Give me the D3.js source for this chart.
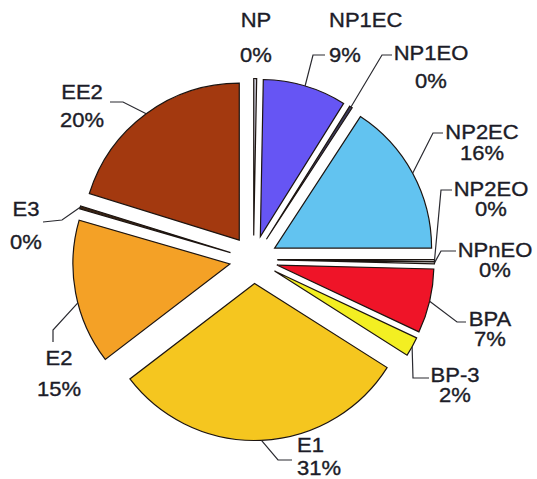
<!DOCTYPE html>
<html>
<head>
<meta charset="utf-8">
<script src="https://cdn.jsdelivr.net/npm/d3@7"></script>
<style>
  html, body { margin: 0; padding: 0; background: #fff; }
  svg { display: block; }
  .lbl { font-family: "Liberation Sans", Arial, sans-serif; font-size: 20px; fill: #1c1c28;
         stroke: #1c1c28; stroke-width: 0.35px; }
</style>
</head>
<body>
<div id="chart"></div>
<script>
// slice names and their shares (percent), clockwise from 12 o'clock
const names = ["NP", "NP1EC", "NP1EO", "NP2EC", "NP2EO", "NPnEO", "BPA", "BP-3", "E1", "E2", "E3", "EE2"];
const shares = [0.3, 8.6, 0.3, 15.8, 0.2, 0.2, 6.6, 2.0, 30.6, 14.9, 0.3, 20.2];

// fill colours, same order as names
const palette = ["#c9c9d6", "#6655f4", "#3a3a5c", "#62c3f0", "#f4f4f4", "#f4f4f4",
                 "#ef1428", "#f3ef22", "#f5c61f", "#f4a126", "#3b2412", "#a3390f"];

const W = 537, H = 479;
const cx = 253.5, cy = 259.5;   // pie centre
const R = 157;                   // radius
const explode = 24;              // distance every slice is pulled out
const fontSize = 20, stretch = 1.1;

// where each label sits, and the elbow of its leader line
// (line1 centre y, line2 centre y; leader goes arc -> elbow -> end)
const labelLayout = {
  "NP":    { x: 256, y1: 20,  y2: 55,  anchor: "middle" },
  "NP1EC": { x: 329, y1: 20,  y2: 55,  anchor: "start", elbow: [313, 55], end: [325, 55] },
  "NP1EO": { x: 431, y1: 53,  y2: 81,  anchor: "middle", elbow: [382, 55], end: [392, 55] },
  "NP2EC": { x: 482, y1: 132, y2: 153, anchor: "middle", elbow: [433, 133], end: [443, 133] },
  "NP2EO": { x: 491, y1: 189, y2: 209, anchor: "middle", elbow: [441, 190], end: [452, 190] },
  "NPnEO": { x: 495, y1: 250, y2: 270, anchor: "middle", elbow: [441, 251], end: [456, 251] },
  "BPA":   { x: 490, y1: 319, y2: 339, anchor: "middle", elbow: [457, 322], end: [466, 322] },
  "BP-3":  { x: 455, y1: 375, y2: 395, anchor: "middle", elbow: [413, 378], end: [429, 378] },
  "E1":    { x: 297, y1: 445, y2: 468, anchor: "start", elbow: [278, 460], end: [292, 460] },
  "E2":    { x: 59,  y1: 358, y2: 389, anchor: "middle", elbow: [53, 330], end: [53, 342], at: 0.43 },
  "E3":    { x: 26,  y1: 209, y2: 242, anchor: "middle", elbow: [62, 220], end: [43, 222] },
  "EE2":   { x: 82,  y1: 92,  y2: 120, anchor: "middle", elbow: [123, 102], end: [110, 102] }
};

const svg = d3.select("#chart")
  .append("svg")
    .attr("width", W)
    .attr("height", H);

const data = names.map((n, i) => ({ name: n, value: shares[i], color: palette[i] }));

const pie = d3.pie().sort(null).value(d => d.value);
const arc = d3.arc().innerRadius(0).outerRadius(R);
const arcs = pie(data);

const mid = d => (d.startAngle + d.endAngle) / 2;
const offset = d => [Math.sin(mid(d)) * explode, -Math.cos(mid(d)) * explode];

const g = svg.append("g").attr("transform", `translate(${cx},${cy})`);

g.selectAll("path.slice")
  .data(arcs)
  .join("path")
    .attr("class", "slice")
    .attr("d", arc)
    .attr("transform", d => `translate(${offset(d)})`)
    .attr("fill", d => d.data.color)
    .attr("stroke", "#1c1410")
    .attr("stroke-width", 1.2)
    .attr("stroke-linejoin", "miter");

// leader lines
const leaders = arcs.filter(d => labelLayout[d.data.name].elbow);
svg.append("g")
  .selectAll("path")
  .data(leaders)
  .join("path")
    .attr("fill", "none")
    .attr("stroke", "#2a2a30")
    .attr("stroke-width", 1.2)
    .attr("d", d => {
      const L = labelLayout[d.data.name];
      const t = L.at == null ? 0.5 : L.at;
      const a = d.startAngle + (d.endAngle - d.startAngle) * t;
      const o = offset(d);
      const sx = cx + o[0] + Math.sin(a) * R;
      const sy = cy + o[1] - Math.cos(a) * R;
      return d3.line()([[sx, sy], L.elbow, L.end]);
    });

// labels: name and rounded percentage (slightly widened like the source)
const capHalf = fontSize * 0.716 / 2;
const lbl = svg.append("g")
  .selectAll("g")
  .data(arcs)
  .join("g");

const addLine = (key, txt) => lbl.append("text")
  .attr("class", "lbl")
  .attr("transform", d => {
    const L = labelLayout[d.data.name];
    return `translate(${L.x},${L[key] + capHalf}) scale(${stretch},1)`;
  })
  .attr("text-anchor", d => labelLayout[d.data.name].anchor)
  .text(txt);

addLine("y1", d => d.data.name);
addLine("y2", d => Math.round(d.data.value) + "%");
</script>
</body>
</html>
